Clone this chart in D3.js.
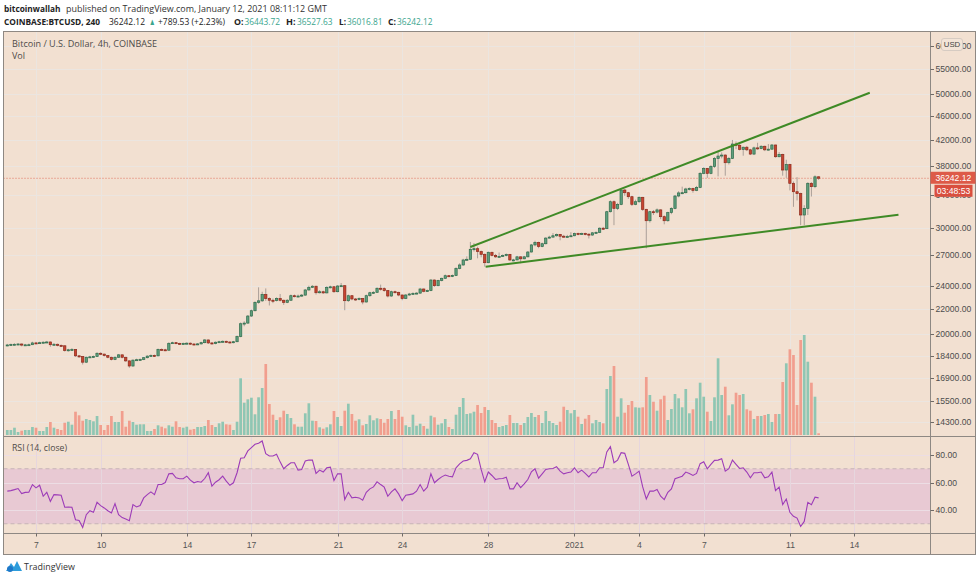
<!DOCTYPE html>
<html><head><meta charset="utf-8">
<script src="https://cdn.jsdelivr.net/npm/d3@7"></script>
<style>body{margin:0;background:#fff}svg{display:block}</style>
</head><body>
<svg id="c" width="980" height="580"></svg>
<script>
// ---------------- DATA ----------------
const startTime = "2020-12-05T16:00:00Z"; // first 4h candle
const firstOpen = 19150;
const closes = [19180,19210,19230,19250,19170,19190,19200,19330,19300,19350,
 19380,19400,19200,19230,19150,19120,18780,18830,18850,18400,
 18350,17960,18300,18330,18360,18580,18520,18420,18300,18150,
 18300,18470,18300,18050,17700,18100,18130,18150,18270,18380,
 18430,18400,18860,18830,18800,19300,19350,19300,19250,19290,
 19310,19250,19220,19260,19350,19550,19330,19280,19380,19420,
 19450,19400,19350,19420,19800,20800,20850,21420,21860,22570,
 22700,23250,22900,22750,22720,22900,22750,22570,22750,23150,
 23100,23120,23200,23660,23900,24000,23414,23500,23400,23900,
 23950,23505,24020,24050,22712,23148,22860,22850,22900,22600,
 23150,23414,23450,23813,23780,23600,23121,23505,23450,23210,
 22900,23210,23300,23350,23380,23747,23540,23600,24578,24050,
 24520,24738,24984,24950,25000,25680,26030,26530,26600,27634,
 27700,27400,27110,26257,27320,27000,26850,26900,26980,27100,
 26530,26540,26850,26650,26850,27350,28100,28370,27940,28230,
 28840,28950,29100,29250,29050,29000,29020,29100,29350,29250,
 29350,29280,29180,29430,29480,29950,29900,31900,33140,32310,
 32800,34650,34300,33780,32810,33140,33700,32190,30820,31900,
 31850,32120,31300,30820,31790,32310,33870,34270,34300,34790,
 34850,34600,35000,36930,37640,36930,37900,39100,39450,39600,
 38460,39100,41300,41100,40470,40800,40400,39750,40700,40600,
 40950,40400,40500,41150,39350,39700,37400,38200,35550,34430,
 34180,31500,32310,35550,35100,36443.72,36242.12];
const highs = [19260,19280,19300,19320,19290,19260,19280,19420,19410,19420,
 19450,19480,19430,19320,19280,19220,19150,18900,18950,18880,
 18460,18380,18350,18400,18420,18650,18650,18560,18450,18340,
 18360,18530,18500,18330,18080,18150,18200,18220,18320,18440,
 18500,18490,18920,18930,18900,19380,19420,19400,19340,19360,
 19380,19360,19300,19320,19420,19620,19580,19370,19440,19490,
 19520,19500,19440,19480,19880,20900,21000,21500,21950,22650,
 23900,23500,23800,23000,22900,23000,23300,22800,22850,23250,
 23250,23250,23300,23750,24050,24100,24050,23650,23600,24000,
 24050,24020,24100,24300,24100,23250,23200,22950,23000,22950,
 23250,23500,23550,23900,24150,23900,23650,23600,23600,23500,
 23250,23300,23400,23450,23450,23850,23800,23700,24650,24620,
 24600,24800,25100,25050,25100,25800,26200,26650,26900,28420,
 28300,27900,27500,27200,27400,27380,27150,27300,27100,27200,
 27150,26650,26950,26900,26950,27450,28200,28550,28450,28350,
 28950,29100,29400,29350,29300,29200,29200,29500,29450,29450,
 29450,29450,29350,29500,29600,30050,30100,32000,33300,33300,
 33000,34900,34800,34400,33900,33400,33800,33750,32250,32000,
 32100,32300,32200,31450,31900,32450,34000,34500,35100,34950,
 35000,34950,35200,37100,37800,37700,38100,39300,40100,40000,
 39700,39300,41950,41700,41300,40900,41000,40550,40900,41500,
 41100,41050,41300,41300,41200,40050,39800,38900,38300,35800,
 36400,34300,32700,35700,35700,36650,36527.63];
const lows = [19090,19140,19170,19190,19080,19120,19130,19170,19240,19260,
 19300,19320,19050,19150,19080,19050,18700,18700,18780,18330,
 18250,17800,17900,18250,18270,18320,18450,18350,18230,18080,
 18100,18250,18220,17980,17580,17650,18050,18080,18100,18220,
 18330,18330,18370,18760,18730,18770,19260,19230,19180,19200,
 19230,19190,19150,19170,19210,19300,19250,19200,19230,19330,
 19370,19330,19290,19300,19380,19750,20600,20800,21350,21800,
 22450,22600,22700,22300,22500,22650,22650,22350,22500,22700,
 23000,23000,23050,23150,23600,23850,23250,23350,23300,23350,
 23800,23400,23450,23950,21900,22600,22750,22700,22750,22400,
 22550,23050,23300,23400,23600,23500,23000,23050,23350,23100,
 22750,22850,23150,23250,23280,23300,23450,23480,23550,23950,
 24000,24450,24700,24850,24850,24950,25600,25950,26450,26550,
 27400,26700,26800,25860,26200,26900,26750,26800,26850,26900,
 26450,26400,26500,26200,26600,26800,27300,27950,27750,27850,
 28150,28800,28900,29000,28600,28900,28950,28950,29050,29150,
 29200,29150,28800,29100,29350,29400,29750,29850,31800,30300,
 32100,32700,33900,33500,32600,32700,33000,32000,27740,30600,
 31500,31700,31000,30400,30700,31600,32200,33700,34100,34200,
 34600,34300,34500,34900,36800,36300,36800,37700,36500,39100,
 36600,38200,39000,40500,40300,39500,40200,39600,39600,40400,
 40500,40200,40300,40400,39200,39250,36600,36300,34600,32500,
 33300,30300,30300,31500,33800,34900,36016.81];
const volumes = [500,500,730,300,430,500,500,800,730,400,
 400,800,1300,730,600,500,1230,1330,1030,2330,
 1970,1430,1600,1500,1370,1900,1000,500,1000,1900,
 1300,1300,2400,830,1430,1300,1030,1070,1070,400,
 400,600,970,830,670,970,830,1370,800,730,
 830,530,600,800,800,900,1500,1000,800,1170,
 1330,1070,1030,500,1330,5670,3230,3570,3730,2070,
 3770,4700,7100,3100,2030,1500,1770,2430,2100,1700,
 1070,830,830,2170,3170,1430,1400,770,630,770,
 1070,2400,1800,900,2430,3130,2100,1430,1570,970,
 1100,1970,1470,1670,1600,1230,1600,2400,1600,2500,
 1830,970,800,2030,930,1130,900,630,1930,1770,
 1030,1170,1600,800,600,2030,2800,3700,2100,2170,
 2330,3000,2200,2800,2500,1500,1200,800,900,1000,
 2000,1200,1200,1000,1200,1800,2200,1800,2000,1200,
 2400,1400,1200,1000,1330,2830,2500,2170,2500,1830,
 1100,1630,2000,1170,1500,1300,1170,4600,5900,6900,
 1830,3670,2230,3000,3400,2770,2730,2770,5800,4000,
 3330,2430,3570,3930,1500,2600,4100,3670,2770,4600,
 2170,2570,3670,5230,3830,2330,1400,3770,7670,4000,
 4830,1970,3070,4230,4000,4100,2570,2430,1600,1900,
 1900,2000,2100,1300,2100,2100,5300,7170,8570,8000,
 3000,9500,10000,7330,5230,3830,170];
const rsiValues = [53.7,54.1,54.8,55.6,52,52.8,53,58.5,56.1,58,
 50,52.9,46.3,51.2,51,50.7,42,42.2,42,32.9,
 32.4,27.3,36.6,39.5,38.3,45.6,43.2,41.5,39.5,37.8,
 44.6,36.6,34.5,33.5,32.2,43.9,42.2,43.2,48.8,51.2,
 53.2,51.2,58.5,58.5,60,66.3,66.6,63.4,62.7,62.7,
 64.6,61.7,59.8,60.7,60.2,62.9,67.1,57.3,60.2,62,
 64.6,61,58,59.8,67.1,77.6,78,83,85.4,87.8,
 88.5,90.2,81,79.3,79.3,80.5,75,70,72.4,74.4,
 74.4,69,69.5,75.6,76.3,76.3,66.6,69,67.6,70.7,
 71.2,61.5,66.3,66.3,47.6,52.9,48.8,49.3,48.8,47.1,
 52.9,55.4,56.8,60.5,58.5,56.6,50,53.2,55.4,51.7,
 46.8,50.7,51.2,51.7,53.7,58.5,53.7,56.6,66.3,59.8,
 62.2,64.1,65.4,64.6,64.1,70.7,73.5,75.6,76.1,77.3,
 81.7,80.5,69.5,60.5,67.6,65.1,62.2,62.7,62.9,63.9,
 55.4,55.4,59.8,56.3,59,62.2,67.8,70,63.2,66.3,
 69.5,70,70.2,71.5,68.3,66.3,67.1,67.6,70.7,67.1,
 69,66.6,64.1,67.1,67.1,70.7,70.7,82.2,86.1,74.4,
 76.3,81.7,81.2,73.2,64.6,66.3,68.3,56.8,48,53.7,
 53.7,54.9,50,47.6,52.9,55.4,62.7,63.7,64.6,67.6,
 66.5,65.1,66.6,73.7,75.1,70,73.2,76.1,76.3,77.3,
 68.3,70,76.3,73.2,70.2,70.7,67.6,63.4,67.1,67.1,
 67.6,63.4,64.1,67.6,54.1,56.6,43.9,48,38.3,35.4,
 34.1,28,31.7,45.6,43.9,49.3,48.8];
const priceTicks = [60000,55000,50000,46000,42000,38000,34000,30000,27000,24000,22000,20000,18400,16900,15500,14300];
const rsiTicks = [80,60,40];
const rsiBand = [30,70];
const dateTicks = ["2020-12-07","2020-12-10","2020-12-14","2020-12-17","2020-12-21","2020-12-24","2020-12-28","2021-01-01","2021-01-04","2021-01-07","2021-01-11","2021-01-14"];
const dateLabels = ["7","10","14","17","21","24","28","2021","4","7","11","14"];
const upperTrend = [{t:"2020-12-27T04:00:00Z",p:27875},{t:"2021-01-14T17:00:00Z",p:50230}];
const lowerTrend = [{t:"2020-12-27T21:00:00Z",p:25858},{t:"2021-01-16T01:00:00Z",p:31534}];
const lastPrice = 36242.12;
const countdown = "03:48:53";
const header1 = ["bitcoinwallah","published on TradingView.com, January 12, 2021 08:11:12 GMT"];
const header2 = [["COINBASE:BTCUSD, 240","b"],["36242.12","n"],["▲","t"],["+789.53 (+2.23%)","n"],["O:","b"],["36443.72","t"],["H:","b"],["36527.63","t"],["L:","b"],["36016.81","t"],["C:","b"],["36242.12","t"]];
const chartTitle = "Bitcoin / U.S. Dollar, 4h, COINBASE";

// ---------------- LAYOUT ----------------
const svg = d3.select("#c");
const L = 3.5, R = 975.5, PX = 930.5, TOP = 31.5, SEP = 436.5, RB = 533.5, BOT = 554.5;
const bg = "#f2e0d1", grid = "#ebe5e0", frame = "#8e8883";
const font = "'Open Sans', 'Liberation Sans', sans-serif";
const axFont = "'Liberation Sans', Arial, sans-serif";

const t0 = Date.parse(startTime);
const times = closes.map((c, i) => new Date(t0 + i * 4 * 3600e3));
const opens = [firstOpen, ...closes.slice(0, -1)];

const x = d3.scaleTime().domain([times[0], times[times.length - 1]]).range([7.3, 818.6]);
const y = d3.scaleLog().domain([20000, 55000]).range([334, 69]);
const yv = d3.scaleLinear().domain([0, 10000]).range([435, 335]);
const yr = d3.scaleLinear().domain([0, 100]).range([565, 427.5]);

svg.append("rect").attr("x", L).attr("y", TOP).attr("width", R - L).attr("height", BOT - TOP).attr("fill", bg);

const defs = svg.append("defs");
defs.append("clipPath").attr("id", "cm").append("rect").attr("x", L).attr("y", TOP).attr("width", PX - L).attr("height", SEP - TOP);
defs.append("clipPath").attr("id", "cr").append("rect").attr("x", L).attr("y", SEP).attr("width", PX - L).attr("height", RB - SEP);

// grid
const gGrid = svg.append("g").attr("stroke", grid).attr("stroke-width", 1);
priceTicks.forEach(p => { const yy = Math.round(y(p)) + 0.5; if (yy > TOP + 2) gGrid.append("line").attr("x1", L).attr("x2", PX).attr("y1", yy).attr("y2", yy); });
dateTicks.forEach(d => { const xx = Math.round(x(new Date(d + "T00:00:00Z"))) + 0.5; gGrid.append("line").attr("x1", xx).attr("x2", xx).attr("y1", TOP).attr("y2", RB); });

// RSI band
const gR = svg.append("g").attr("clip-path", "url(#cr)");
gR.append("rect").attr("x", L).attr("width", PX - L).attr("y", yr(rsiBand[1])).attr("height", yr(rsiBand[0]) - yr(rsiBand[1])).attr("fill", "#e8c9d3");
rsiTicks.forEach(v => gR.append("line").attr("x1", L).attr("x2", PX).attr("y1", Math.round(yr(v)) + 0.5).attr("y2", Math.round(yr(v)) + 0.5).attr("stroke", "#ecdde4").attr("stroke-width", 1));
dateTicks.forEach(d => { const xx = Math.round(x(new Date(d + "T00:00:00Z"))) + 0.5; gR.append("line").attr("x1", xx).attr("x2", xx).attr("y1", SEP).attr("y2", RB).attr("stroke", "#e6d6de"); });
rsiBand.forEach(v => gR.append("line").attr("x1", L).attr("x2", PX).attr("y1", yr(v)).attr("y2", yr(v)).attr("stroke", "#c7b3b7").attr("stroke-dasharray", "4,3"));
gR.append("path").datum(rsiValues).attr("fill", "none").attr("stroke", "#9d3cb8").attr("stroke-width", 1.1)
  .attr("d", d3.line().x((d, i) => x(times[i])).y(d => yr(d)));

// main pane
const gM = svg.append("g").attr("clip-path", "url(#cm)");
const up = i => closes[i] >= opens[i];
gM.append("g").selectAll("rect").data(volumes).join("rect")
  .attr("x", (d, i) => x(times[i]) - 1.35).attr("width", 2.7)
  .attr("y", d => yv(d)).attr("height", d => yv(0) - yv(d))
  .attr("fill", (d, i) => up(i) ? "#8fc6b3" : "#f19e8e");

// last price dotted line
gM.append("line").attr("x1", L).attr("x2", PX).attr("y1", y(lastPrice)).attr("y2", y(lastPrice))
  .attr("stroke", "#e0705f").attr("stroke-dasharray", "1,2").attr("stroke-width", 1);

// wicks
gM.append("g").selectAll("line").data(closes).join("line")
  .attr("x1", (d, i) => x(times[i])).attr("x2", (d, i) => x(times[i]))
  .attr("y1", (d, i) => y(highs[i])).attr("y2", (d, i) => y(lows[i]))
  .attr("stroke", "#ab9f98").attr("stroke-width", 1);
// bodies
gM.append("g").selectAll("rect").data(closes).join("rect")
  .attr("x", (d, i) => x(times[i]) - 1.15).attr("width", 2.3)
  .attr("y", (d, i) => y(Math.max(opens[i], closes[i])))
  .attr("height", (d, i) => Math.max(1, y(Math.min(opens[i], closes[i])) - y(Math.max(opens[i], closes[i]))))
  .attr("fill", (d, i) => up(i) ? "#5f9f7d" : "#c8432f")
  .attr("stroke", (d, i) => up(i) ? "#2e6b4b" : "#8c2b1d").attr("stroke-width", 0.7);

// trend lines
const tl = d3.line().x(d => x(new Date(d.t))).y(d => y(d.p));
[upperTrend, lowerTrend].forEach(tr => gM.append("path").datum(tr).attr("d", tl).attr("fill", "none").attr("stroke", "#3f8a26").attr("stroke-width", 2));

// frame lines
const gF = svg.append("g").attr("stroke", frame).attr("stroke-width", 1).attr("fill", "none");
gF.append("rect").attr("x", L).attr("y", TOP).attr("width", R - L).attr("height", BOT - TOP);
gF.append("line").attr("x1", PX).attr("x2", PX).attr("y1", TOP).attr("y2", BOT);
gF.append("line").attr("x1", L).attr("x2", R).attr("y1", SEP).attr("y2", SEP);
gF.append("line").attr("x1", L).attr("x2", R).attr("y1", RB).attr("y2", RB);

// price axis
const fmt = d3.format(".2f");
const gA = svg.append("g").attr("font-family", axFont).attr("font-size", 8.6).attr("fill", "#4d4d4d");
priceTicks.forEach(p => {
  const yy = y(p);
  gA.append("line").attr("x1", PX).attr("x2", PX + 3.5).attr("y1", Math.round(yy) + 0.5).attr("y2", Math.round(yy) + 0.5).attr("stroke", "#6f6a66");
  gA.append("text").attr("x", 935.5).attr("y", yy + 3).text(fmt(p));
});
rsiTicks.forEach(v => {
  const yy = yr(v);
  gA.append("line").attr("x1", PX).attr("x2", PX + 3.5).attr("y1", Math.round(yy) + 0.5).attr("y2", Math.round(yy) + 0.5).attr("stroke", "#6f6a66");
  gA.append("text").attr("x", 935.5).attr("y", yy + 3).text(fmt(v));
});
// USD badge
svg.append("rect").attr("x", 941.5).attr("y", 38.5).attr("width", 21).attr("height", 12).attr("rx", 2.5).attr("fill", "#f3e4d7").attr("stroke", "#d6cbc2");
svg.append("text").attr("x", 952).attr("y", 47.3).attr("text-anchor", "middle").attr("font-family", axFont).attr("font-size", 7.8).attr("fill", "#444").text("USD");
// last price labels
const ly = y(lastPrice);
svg.append("rect").attr("x", PX).attr("y", ly - 6.5).attr("width", R - PX).attr("height", 12).attr("fill", "#dd5a48");
svg.append("text").attr("x", 935.5).attr("y", ly + 3).attr("font-family", axFont).attr("font-size", 8.6).attr("fill", "#fff").text(fmt(lastPrice));
svg.append("rect").attr("x", 934.5).attr("y", ly + 6.5).attr("width", 38).attr("height", 12).attr("fill", "#d94f3f");
svg.append("text").attr("x", 953.5).attr("y", ly + 15.5).attr("text-anchor", "middle").attr("font-family", axFont).attr("font-size", 8.6).attr("fill", "#fff").text(countdown);

// time axis
const gT = svg.append("g").attr("font-family", axFont).attr("font-size", 8.6).attr("fill", "#555");
dateTicks.forEach((d, k) => {
  const xx = Math.round(x(new Date(d + "T00:00:00Z"))) + 0.5;
  gT.append("line").attr("x1", xx).attr("x2", xx).attr("y1", RB).attr("y2", RB + 3).attr("stroke", "#6f6a66");
  gT.append("text").attr("x", xx).attr("y", 547.5).attr("text-anchor", "middle").text(dateLabels[k]);
});

// legends
svg.append("text").attr("x", 12).attr("y", 46.5).attr("font-family", font).attr("font-size", 9).attr("fill", "#4f4b48").attr("textLength", 145).attr("lengthAdjust", "spacingAndGlyphs").text(chartTitle);
svg.append("text").attr("x", 12).attr("y", 58.5).attr("font-family", font).attr("font-size", 9).attr("fill", "#4f4b48").text("Vol");
svg.append("text").attr("x", 12).attr("y", 451).attr("font-family", font).attr("font-size", 9).attr("fill", "#4f4b48").attr("textLength", 55).attr("lengthAdjust", "spacingAndGlyphs").text("RSI (14, close)");

// header
const h1x = [[4, 56.5], [66, 261]];
header1.forEach((s, k) => svg.append("text").attr("x", h1x[k][0]).attr("y", 11.5).attr("font-family", font).attr("font-size", 9.6)
  .attr("font-weight", k === 0 ? 700 : 400).attr("fill", k === 0 ? "#222" : "#333")
  .attr("textLength", h1x[k][1]).attr("lengthAdjust", "spacingAndGlyphs").text(s));
const h2x = [[4, 96], [109, 36], [149, 6.5], [158, 67], [234, 9.5], [244.5, 35.5], [286, 9.5], [297, 35.5], [339, 7], [347, 35.5], [388, 8], [397, 35.5]];
header2.forEach((s, k) => svg.append("text").attr("x", h2x[k][0]).attr("y", 24.5).attr("font-family", font).attr("font-size", 9.3)
  .attr("font-weight", s[1] === "b" ? 700 : 400).attr("fill", s[1] === "t" ? "#3aa58e" : "#222")
  .attr("textLength", h2x[k][1]).attr("lengthAdjust", "spacingAndGlyphs").text(s[0]));

// TradingView logo
const lg = svg.append("g").attr("transform", "translate(6,560)");
lg.append("path").attr("d", "M0,11 L5,3 L8,7 L11,1 L16,11 Z").attr("fill", "#2d9cdb");
lg.append("circle").attr("cx", 4).attr("cy", 9).attr("r", 3).attr("fill", "#1e78c8");
svg.append("text").attr("x", 24).attr("y", 570).attr("font-family", font).attr("font-size", 9).attr("fill", "#333").attr("textLength", 51).attr("lengthAdjust", "spacingAndGlyphs").text("TradingView");
</script>
</body></html>
